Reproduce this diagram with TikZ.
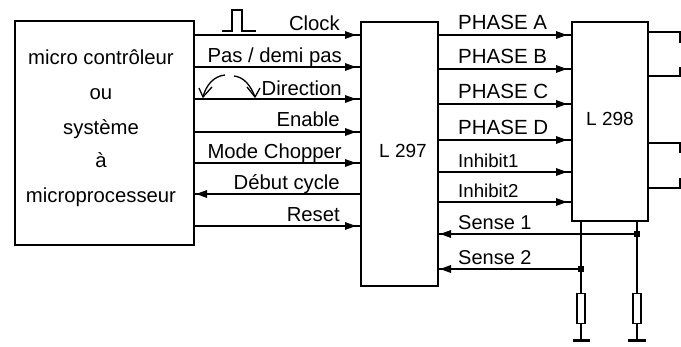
\documentclass[tikz,border=0pt]{standalone}
\usepackage{fontspec}
\setmainfont{Liberation Sans}
\usetikzlibrary{arrows.meta,decorations.markings}
\tikzset{
 x=1pt,y=-1pt,
 box/.style={draw,line width=2pt,anchor=north west,inner sep=0pt},
 sigr/.style={line width=1.5pt,postaction={decorate},decoration={markings,mark=at position -4pt with {\arrow{Triangle[length=11pt,width=7.5pt]}}}},
 sigl/.style={line width=1.5pt,postaction={decorate},decoration={markings,mark=at position -3pt with {\arrow{Triangle[length=11pt,width=7.5pt]}}}},
 wire/.style={line width=1.5pt},
 lab/.style={inner sep=0pt,font=\fontsize{20.3}{22}\selectfont,anchor=base east},
 labl/.style={inner sep=0pt,font=\fontsize{20.5}{22}\selectfont,anchor=base west},
 labs/.style={labl,font=\fontsize{18.7}{22}\selectfont},
 labm/.style={labl,font=\fontsize{20}{22}\selectfont},
 boxlab/.style={inner sep=0pt,font=\fontsize{19}{22}\selectfont,anchor=base west},
 mclab/.style={inner sep=0pt,font=\fontsize{20.3}{22}\selectfont,anchor=base},
 res/.style={draw,line width=1.7pt,fill=white,minimum width=8.5pt,minimum height=30pt,inner sep=0pt},
 dot/.style={fill,minimum size=6pt,inner sep=0pt},
}
\begin{document}
\begin{tikzpicture}
\useasboundingbox (0,0) rectangle (681,347);
\node[box,minimum width=179pt,minimum height=224pt] (mc) at (14,20) {};
\node[box,minimum width=77pt,minimum height=264pt] (a) at (360,21) {};
\node[box,minimum width=76pt,minimum height=199pt] (b) at (571,21) {};
\node[boxlab] (al) at (379,158) {L 297};
\node[boxlab] (bl) at (586,126) {L 298};
\foreach \n/\t/\y in {m1/micro contrôleur/65,m2/ou/100,m3/système/135,m4/à/168,m5/microprocesseur/203}
  \node[mclab] (\n) at (101,\y) {\t};
% left signals
\foreach \n/\y in {c1/35,c2/67,c3/99,c4/132,c5/163,c7/226}{
  \coordinate (\n L) at (193,\y); \coordinate (\n R) at (360,\y);
  \draw[sigr] (\n L) -- (\n R);}
\coordinate (c6L) at (193,194); \coordinate (c6R) at (360,194);
\draw[sigl] (c6R) -- (c6L);
\node[lab] (t1) at (340,31) {Clock};
\node[lab] (t2) at (342,63) {Pas / demi pas};
\node[lab] (t3) at (342,95.5) {Direction};
\node[lab] (t4) at (340,127) {Enable};
\node[lab] (t5) at (342,159) {Mode Chopper};
\node[lab] (t6) at (340,190) {Début cycle};
\node[lab] (t7) at (340,222) {Reset};
% pulse and curved arrows
\coordinate (p0) at (222,31);\coordinate (p1) at (232,31);\coordinate (p2) at (232,10);\coordinate (p3) at (242,10);\coordinate (p4) at (242,31);\coordinate (p5) at (256,31);
\draw[line width=1.2pt] (p0)--(p1)--(p2)--(p3)--(p4)--(p5);
\coordinate (q0) at (225,75);\coordinate (q1) at (203,97);\coordinate (q2) at (234,76);\coordinate (q3) at (255,97);
\draw[line width=1.3pt] (q0) .. controls (214,76) and (206,85) .. (q1);
\draw[line width=1.3pt] (q2) .. controls (244,77) and (251,86) .. (q3);
\coordinate (h1) at (199,88);\coordinate (h2) at (212,87);\coordinate (h3) at (247,87);\coordinate (h4) at (260,88);
\draw[line width=1.3pt] (h1)--(q1)--(h2);
\draw[line width=1.3pt] (h3)--(q3)--(h4);
% right signals
\foreach \n/\y in {d1/35,d2/69,d3/104,d4/140,d5/172,d6/202}{
  \coordinate (\n L) at (437,\y); \coordinate (\n R) at (571,\y);
  \draw[sigr] (\n L) -- (\n R);}
\node[labl] (u1) at (458,30) {PHASE A};
\node[labl] (u2) at (458,64) {PHASE B};
\node[labl] (u3) at (458,99) {PHASE C};
\node[labl] (u4) at (458,135) {PHASE D};
\node[labs] (u5) at (458,168) {Inhibit1};
\node[labs] (u6) at (458,198) {Inhibit2};
\node[labm] (u7) at (458,230) {Sense 1};
\node[labm] (u8) at (458,265) {Sense 2};
% outputs
\coordinate (o1) at (647,32);\coordinate (o1a) at (680,32);\coordinate (o1b) at (680,43);
\coordinate (o2) at (647,76);\coordinate (o2a) at (680,76);\coordinate (o2b) at (680,67);
\coordinate (o3) at (647,143);\coordinate (o3a) at (680,143);\coordinate (o3b) at (680,153);
\coordinate (o4) at (647,188);\coordinate (o4a) at (680,188);\coordinate (o4b) at (680,178);
\draw[wire] (o1)--(o1a)--(o1b);
\draw[wire,line width=2pt] (o2)--(o2a)--(o2b);
\draw[wire] (o3)--(o3a)--(o3b);
\draw[wire] (o4)--(o4a)--(o4b);
% sense
\coordinate (v1) at (581,220);\coordinate (v2) at (637,220);
\coordinate (g1) at (581,341);\coordinate (g2) at (637,341);
\coordinate (g1a) at (573,341);\coordinate (g1b) at (590,341);
\coordinate (g2a) at (628,341);\coordinate (g2b) at (646,341);
\draw[wire] (v1)--(g1); \draw[wire] (v2)--(g2);
\draw[line width=3pt] (g1a)--(g1b); \draw[line width=3pt] (g2a)--(g2b);
\node[res] (r1) at (581,308.5) {};
\node[res] (r2) at (637,308.5) {};
\node[dot] (j1) at (637,234) {};
\node[dot] (j2) at (581,269) {};
\coordinate (s1) at (437,234);\coordinate (s2) at (437,269);
\draw[sigl] (j1) -- (s1);
\draw[sigl,line width=2pt] (j2) -- (s2);
\end{tikzpicture}
\end{document}
